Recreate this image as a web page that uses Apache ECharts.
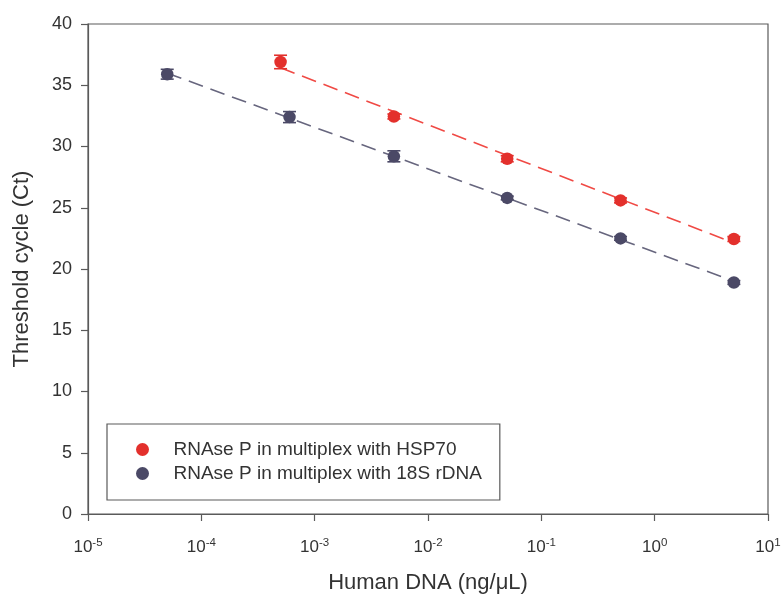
<!DOCTYPE html>
<html>
<head>
<meta charset="utf-8">
<script src="https://cdn.jsdelivr.net/npm/echarts@6/dist/echarts.min.js"></script>
<style>
  html, body { margin: 0; padding: 0; background: #fff; }
  #chart { width: 782px; height: 595px; }
</style>
</head>
<body>
<div id="chart"></div>
<script>
// Human DNA concentration (ng/µL) and mean threshold cycle with SD
const hspConc   = [0.0005, 0.005, 0.05, 0.5, 5];
const hspCt     = [36.9, 32.45, 29.0, 25.6, 22.45];
const hspSd     = [0.55, 0.2, 0.25, 0.2, 0.2];

const rdnaConc  = [0.00005, 0.0006, 0.005, 0.05, 0.5, 5];
const rdnaCt    = [35.9, 32.4, 29.2, 25.8, 22.5, 18.9];
const rdnaSd    = [0.4, 0.45, 0.45, 0.15, 0.15, 0.15];

const seriesNames = ['RNAse P in multiplex with HSP70', 'RNAse P in multiplex with 18S rDNA'];
const yTicks = [0, 5, 10, 15, 20, 25, 30, 35, 40];

const RED = '#e3302c', RED_LINE = '#f04a45';
const SLATE = '#4b4966', SLATE_LINE = '#67667e';
const FONT = '"Liberation Sans", Arial, sans-serif';

// least-squares fit of Ct against log10(concentration), drawn across the measured range
function fitLine(xs, ys) {
  const lx = xs.map(Math.log10);
  const n = lx.length;
  const mx = lx.reduce((a, b) => a + b, 0) / n;
  const my = ys.reduce((a, b) => a + b, 0) / n;
  let sxy = 0, sxx = 0;
  for (let i = 0; i < n; i++) { sxy += (lx[i] - mx) * (ys[i] - my); sxx += (lx[i] - mx) ** 2; }
  const slope = sxy / sxx, icpt = my - slope * mx;
  const x0 = Math.min(...xs), x1 = Math.max(...xs);
  return [[x0, icpt + slope * Math.log10(x0)], [x1, icpt + slope * Math.log10(x1)]];
}

function pairs(xs, ys) { return xs.map((x, i) => [x, ys[i]]); }
function bars(xs, ys, sd) { return xs.map((x, i) => [x, ys[i] - sd[i], ys[i] + sd[i]]); }

function errorBarSeries(data, color) {
  return {
    type: 'custom',
    data: data,
    z: 3,
    silent: true,
    renderItem: function (params, api) {
      const x = api.value(0);
      const lo = api.coord([x, api.value(1)]);
      const hi = api.coord([x, api.value(2)]);
      const w = 6.5;
      const st = { stroke: color, lineWidth: 1.6 };
      return {
        type: 'group',
        children: [
          { type: 'line', shape: { x1: lo[0], y1: lo[1], x2: hi[0], y2: hi[1] }, style: st },
          { type: 'line', shape: { x1: lo[0] - w, y1: lo[1], x2: lo[0] + w, y2: lo[1] }, style: st },
          { type: 'line', shape: { x1: hi[0] - w, y1: hi[1], x2: hi[0] + w, y2: hi[1] }, style: st }
        ]
      };
    }
  };
}

const chart = echarts.init(document.getElementById('chart'), null, { renderer: 'canvas' });

chart.setOption({
  animation: false,
  backgroundColor: '#ffffff',
  grid: {
    left: 88, right: 14, top: 24, bottom: 81,
    outerBoundsMode: 'none',
    containLabel: false,
    show: true, borderColor: '#5a5a5a', borderWidth: 1.2
  },
  xAxis: {
    type: 'log',
    logBase: 10,
    min: 0.00001,
    max: 10,
    name: 'Human DNA (ng/μL)',
    nameLocation: 'middle',
    nameGap: 58,
    nameTextStyle: { fontFamily: FONT, fontSize: 22, color: '#333' },
    axisLine: { lineStyle: { color: '#5a5a5a', width: 1.2 } },
    axisTick: { show: true, length: 7, lineStyle: { color: '#5a5a5a', width: 1.2 } },
    minorTick: { show: false },
    splitLine: { show: false },
    axisLabel: {
      margin: 23,
      fontFamily: FONT,
      color: '#333',
      formatter: function (v) {
        const e = Math.round(Math.log10(v));
        return '{b|10}{s|' + e + '}';
      },
      rich: {
        b: { fontFamily: FONT, fontSize: 17, color: '#333' },
        s: { fontFamily: FONT, fontSize: 11.5, color: '#333', verticalAlign: 'top', padding: [0, 0, 9, 0] }
      }
    }
  },
  yAxis: {
    type: 'value',
    min: yTicks[0],
    max: yTicks[yTicks.length - 1],
    interval: 5,
    name: 'Threshold cycle (Ct)',
    nameLocation: 'middle',
    nameGap: 55,
    nameRotate: 90,
    nameTextStyle: { fontFamily: FONT, fontSize: 22, color: '#333' },
    axisLine: { show: true, lineStyle: { color: '#5a5a5a', width: 1.2 } },
    axisTick: { show: true, length: 7, lineStyle: { color: '#5a5a5a', width: 1.2 } },
    splitLine: { show: false },
    axisLabel: { margin: 16, fontFamily: FONT, fontSize: 18, color: '#333' }
  },
  legend: {
    data: seriesNames,
    orient: 'vertical',
    left: 107,
    top: 424,
    padding: [16, 18, 17, 29],
    itemGap: 5,
    itemWidth: 52,
    itemHeight: 13,
    icon: 'circle',
    borderColor: '#5a5a5a',
    borderWidth: 1.2,
    backgroundColor: '#fff',
    textStyle: { fontFamily: FONT, fontSize: 19, color: '#333', lineHeight: 18 }
  },
  series: [
    {
      type: 'line',
      data: fitLine(hspConc, hspCt),
      symbol: 'none',
      z: 1,
      silent: true,
      lineStyle: { color: RED_LINE, width: 1.6, type: [15, 8] }
    },
    {
      type: 'line',
      data: fitLine(rdnaConc, rdnaCt),
      symbol: 'none',
      z: 1,
      silent: true,
      lineStyle: { color: SLATE_LINE, width: 1.6, type: [15, 8] }
    },
    errorBarSeries(bars(hspConc, hspCt, hspSd), RED),
    errorBarSeries(bars(rdnaConc, rdnaCt, rdnaSd), SLATE),
    {
      name: seriesNames[0],
      type: 'scatter',
      data: pairs(hspConc, hspCt),
      symbol: 'circle',
      symbolSize: 12.5,
      z: 4,
      itemStyle: { color: RED, opacity: 1 }
    },
    {
      name: seriesNames[1],
      type: 'scatter',
      data: pairs(rdnaConc, rdnaCt),
      symbol: 'circle',
      symbolSize: 12.5,
      z: 4,
      itemStyle: { color: SLATE, opacity: 1 }
    }
  ]
});
</script>
</body>
</html>
